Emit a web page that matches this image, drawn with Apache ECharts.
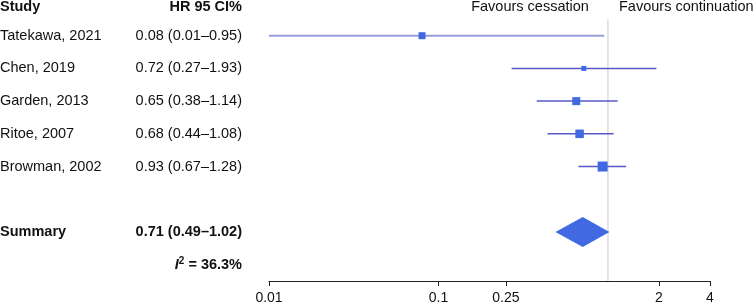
<!DOCTYPE html>
<html>
<head>
<meta charset="utf-8">
<script src="https://cdn.jsdelivr.net/npm/echarts@6/dist/echarts.min.js"></script>
<style>
  html, body { margin: 0; padding: 0; background: #fff; }
  #main { width: 753px; height: 303px; }
</style>
</head>
<body>
<div id="main"></div>
<script>
// forest plot - HR of cessation vs continuation

var studies = ["Tatekawa, 2021", "Chen, 2019", "Garden, 2013", "Ritoe, 2007", "Browman, 2002"];
var hr = [0.08, 0.72, 0.65, 0.68, 0.93];
var lower = [0.01, 0.27, 0.38, 0.44, 0.67];
var upper = [0.95, 1.93, 1.14, 1.08, 1.28];
var weights = [7, 5, 8, 8.5, 10];

var summary = { name: "Summary", hr: 0.71, lower: 0.49, upper: 1.02 };
var heterogeneity = "36.3%";
var tickValues = [0.01, 0.1, 0.25, 2, 4];

var FONT = "Liberation Sans, Arial, sans-serif";
var SIZE = 14.5;

function fmt(v) {
  return v.toFixed(2);
}

var Chart = echarts.init(document.getElementById("main"));

var rows = studies.map(function (name, i) {
  return [hr[i], i, lower[i], upper[i], weights[i]];
});

option = {
  animation: false,
  grid: {
    left: 269,
    right: 43,
    top: 3,
    bottom: 22,
    outerBoundsMode: "none",
    containLabel: false
  },
  xAxis: {
    type: "log",
    logBase: 10,
    min: 0.01,
    max: 4,
    splitLine: { show: false },
    axisLine: { show: true, onZero: false, lineStyle: { color: "#222", width: 1 } },
    axisTick: {
      show: true,
      length: 5,
      lineStyle: { color: "#222" },
      customValues: tickValues
    },
    axisLabel: {
      color: "#111",
      fontSize: 14,
      fontFamily: FONT,
      margin: 10,
      customValues: tickValues,
      formatter: function (v) {
        return String(+v.toPrecision(3));
      }
    }
  },
  yAxis: {
    type: "value",
    inverse: true,
    min: -1,
    max: 7.5,
    show: false
  },
  series: [
    // vertical line of no effect
    {
      type: "custom",
      silent: true,
      data: [[1]],
      renderItem: function (params, api) {
        var a = api.coord([1, -0.5]);
        var b = api.coord([1, 7.5]);
        return {
          type: "line",
          shape: { x1: a[0], y1: a[1], x2: b[0], y2: b[1] },
          style: { stroke: "#d4d4d4", lineWidth: 1.2 }
        };
      }
    },
    // study CIs and boxes
    {
      type: "custom",
      data: rows,
      renderItem: function (params, api) {
        var i = params.dataIndex;
        var p = api.coord([api.value(0), api.value(1)]);
        var lo = api.coord([api.value(2), api.value(1)]);
        var hi = api.coord([api.value(3), api.value(1)]);
        var s = api.value(4);
        return {
          type: "group",
          children: [
            {
              type: "line",
              shape: { x1: lo[0], y1: p[1], x2: hi[0], y2: p[1] },
              style: {
                stroke: i === 0 ? "#9c9cdc" : "#5558c8",
                lineWidth: i === 0 ? 2 : 1.5
              }
            },
            {
              type: "rect",
              shape: { x: p[0] - s / 2, y: p[1] - s / 2, width: s, height: s },
              style: { fill: "#4169e1" }
            }
          ]
        };
      }
    },
    // summary diamond
    {
      type: "custom",
      data: [[summary.hr, 6, summary.lower, summary.upper]],
      renderItem: function (params, api) {
        var c = api.coord([api.value(0), api.value(1)]);
        var lo = api.coord([api.value(2), api.value(1)]);
        var hi = api.coord([api.value(3), api.value(1)]);
        var h = 15;
        return {
          type: "polygon",
          shape: {
            points: [[lo[0], c[1]], [c[0], c[1] - h], [hi[0], c[1]], [c[0], c[1] + h]]
          },
          style: { fill: "#4169e1" }
        };
      }
    },
    // text columns
    {
      type: "custom",
      silent: true,
      data: [[1]],
      renderItem: function (params, api) {
        var children = [];
        function y(r) {
          return api.coord([1, r])[1];
        }
        function txt(x, r, text, align, bold) {
          children.push({
            type: "text",
            style: {
              x: x,
              y: y(r),
              text: text,
              textAlign: align,
              textVerticalAlign: "middle",
              font: (bold ? "bold " : "") + SIZE + "px " + FONT,
              fill: "#111"
            }
          });
        }
        var hy = -0.88;
        txt(0, hy, "Study", "left", true);
        txt(242, hy, "HR 95 CI%", "right", true);
        txt(530, hy, "Favours cessation", "center", false);
        txt(619, hy, "Favours continuation", "left", false);
        studies.forEach(function (name, i) {
          txt(0, i, name, "left", false);
          txt(242, i, fmt(hr[i]) + " (" + fmt(lower[i]) + "\u2013" + fmt(upper[i]) + ")", "right", false);
        });
        txt(0, 6, summary.name, "left", true);
        txt(242, 6, fmt(summary.hr) + " (" + fmt(summary.lower) + "\u2013" + fmt(summary.upper) + ")", "right", true);
        children.push({
          type: "text",
          style: {
            x: 242,
            y: y(7),
            text: "{i|I}{s|2}{b| = " + heterogeneity + "}",
            textAlign: "right",
            textVerticalAlign: "middle",
            rich: {
              i: { fontStyle: "italic", fontWeight: "bold", fontSize: SIZE, fontFamily: FONT, fill: "#111" },
              s: { fontWeight: "bold", fontSize: 10, fontFamily: FONT, fill: "#111", padding: [0, 0, 7, 0] },
              b: { fontWeight: "bold", fontSize: SIZE, fontFamily: FONT, fill: "#111" }
            }
          }
        });
        return { type: "group", children: children };
      }
    }
  ]
};

Chart.setOption(option);
</script>
</body>
</html>
